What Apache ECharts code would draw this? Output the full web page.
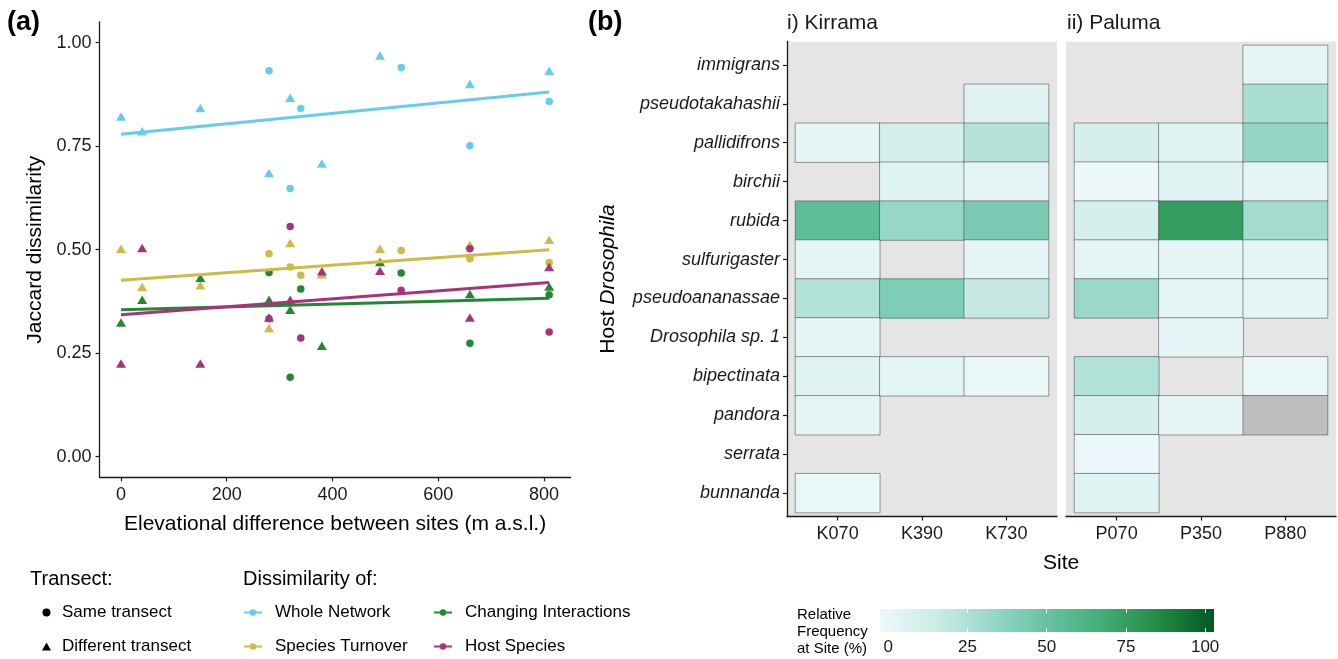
<!DOCTYPE html>
<html><head><meta charset="utf-8">
<script src="https://cdn.jsdelivr.net/npm/echarts@6/dist/echarts.min.js"></script>
<style>html,body{margin:0;padding:0;background:#fff}#c{width:1338px;height:659px}</style>
</head><body><div id="c"></div>
<script>
// ---------- Panel (a) data ----------
const xSame = [280, 320, 340, 530, 660, 810];
const xDiff = [0, 40, 150, 280, 320, 380, 490, 660, 810];
const wholeSame  = [0.932, 0.648, 0.841, 0.940, 0.751, 0.858];
const wholeDiff  = [0.822, 0.786, 0.842, 0.685, 0.867, 0.708, 0.969, 0.900, 0.932];
const turnSame   = [0.490, 0.458, 0.438, 0.498, 0.478, 0.469];
const turnDiff   = [0.502, 0.410, 0.414, 0.311, 0.516, 0.441, 0.502, 0.512, 0.524];
const changeSame = [0.445, 0.192, 0.405, 0.444, 0.274, 0.391];
const changeDiff = [0.324, 0.379, 0.432, 0.379, 0.355, 0.268, 0.470, 0.393, 0.411];
const hostSame   = [0.333, 0.556, 0.287, 0.402, 0.502, 0.301];
const hostDiff   = [0.225, 0.504, 0.225, 0.336, 0.379, 0.448, 0.449, 0.336, 0.458];
const trendX      = [0, 810];
const wholeTrend  = [0.779, 0.881];
const turnTrend   = [0.426, 0.500];
const changeTrend = [0.355, 0.383];
const hostTrend   = [0.343, 0.421];
const xTicks = [0, 200, 400, 600, 800];
const yTicks = [0, 0.25, 0.5, 0.75, 1];
const groupNames = ['Whole Network', 'Species Turnover', 'Changing Interactions', 'Host Species'];

// ---------- Panel (b) data ----------
const hosts = ['immigrans','pseudotakahashii','pallidifrons','birchii','rubida','sulfurigaster',
  'pseudoananassae','Drosophila sp. 1','bipectinata','pandora','serrata','bunnanda'];
const sitesK = ['K070', 'K390', 'K730'];
const sitesP = ['P070', 'P350', 'P880'];
const freqK070 = [null, null, 4, null, 54, 4, 25, 4, 7, 4, null, 1.5];
const freqK390 = [null, null, 12, 7, 34, null, 42, null, 5, null, null, null];
const freqK730 = [null, 7, 24, 4, 43, 4, 19, null, 1.5, null, null, null];
const freqP070 = [null, null, 12, 0.5, 12, 4, 33, null, 25, 12, 1, 7];
const freqP350 = [null, null, 7, 7, 75, 4, 4, 4, null, 4, null, null];
const freqP880 = [4, 28, 35, 4, 30, 4, 4, null, 1.5, 'NA', null, null];
const colorTicks = [0, 25, 50, 75, 100];

// ---------- styling ----------
const FONT = 'Liberation Sans, Arial, Helvetica, sans-serif';
const colors = ['#66CCEE', '#CCBB44', '#228833', '#AA3377'];
const bugn = ['#edf8fb', '#ccece6', '#99d8c9', '#66c2a4', '#41ae76', '#238b45', '#005824'];

const pairs = (xs, ys) => xs.map((x, i) => [x, ys[i]]);
const sameSets = [wholeSame, turnSame, changeSame, hostSame];
const diffSets = [wholeDiff, turnDiff, changeDiff, hostDiff];
const trendSets = [wholeTrend, turnTrend, changeTrend, hostTrend];

const series = [];
for (let g = 0; g < 4; g++) {
  series.push({ type: 'scatter', name: 'Same transect', xAxisIndex: 0, yAxisIndex: 0,
    symbol: 'circle', symbolSize: 7.5, itemStyle: { color: colors[g], opacity: 1 },
    data: pairs(xSame, sameSets[g]), z: 3, silent: true });
  series.push({ type: 'scatter', name: 'Different transect', xAxisIndex: 0, yAxisIndex: 0,
    symbol: 'triangle', symbolSize: [10, 8.5], itemStyle: { color: colors[g], opacity: 1 },
    data: pairs(xDiff, diffSets[g]), z: 3, silent: true });
}
for (let g = 0; g < 4; g++) {
  series.push({ type: 'line', name: groupNames[g], xAxisIndex: 0, yAxisIndex: 0,
    symbol: 'circle', showSymbol: false, color: colors[g],
    lineStyle: { width: 3, color: colors[g] }, itemStyle: { color: colors[g] },
    data: pairs(trendX, trendSets[g]), z: 5, silent: true });
}

function cells(siteArrays) {
  const v = [], na = [];
  siteArrays.forEach((arr, xi) => arr.forEach((val, yi) => {
    if (val === 'NA') na.push([xi, yi, 0]);
    else if (val !== null) v.push([xi, yi, val]);
  }));
  return { v, na };
}
const cK = cells([freqK070, freqK390, freqK730]);
const cP = cells([freqP070, freqP350, freqP880]);
const cellStyle = { borderColor: 'rgba(60,60,60,0.5)', borderWidth: 1 };
const hmStart = series.length;
series.push({ type: 'heatmap', xAxisIndex: 3, yAxisIndex: 3, data: cK.v, itemStyle: cellStyle, silent: true });
series.push({ type: 'heatmap', xAxisIndex: 4, yAxisIndex: 4, data: cP.v, itemStyle: cellStyle, silent: true });
series.push({ type: 'heatmap', xAxisIndex: 4, yAxisIndex: 4, data: cP.na,
  itemStyle: Object.assign({ color: '#bebebe' }, cellStyle), silent: true });

// layout
const panelTop = 41.5, panelH = 475;
const unitY = panelH / 12.2;
const panelW = 270, unitX = panelW / 3.2;
const pK = 787, pP = 1066;

const hiddenVal = (extra) => Object.assign({ type: 'value', min: 0, max: 1,
  axisLabel: { show: false }, axisTick: { show: false }, splitLine: { show: false } }, extra);

const option = {
  animation: false,
  textStyle: { fontFamily: FONT },
  title: [
    { text: '(a)', left: 7, top: 9, padding: 0, textStyle: { fontSize: 27, fontWeight: 'bold', color: '#000', fontFamily: FONT } },
    { text: '(b)', left: 588, top: 9, padding: 0, textStyle: { fontSize: 27, fontWeight: 'bold', color: '#000', fontFamily: FONT } },
    { text: 'i) Kirrama', left: 787, top: 13, padding: 0, textStyle: { fontSize: 21, fontWeight: 'normal', color: '#1a1a1a', fontFamily: FONT } },
    { text: 'ii) Paluma', left: 1067, top: 13, padding: 0, textStyle: { fontSize: 21, fontWeight: 'normal', color: '#1a1a1a', fontFamily: FONT } },
    { text: 'Site', left: 1043, top: 553, padding: 0, textStyle: { fontSize: 21, fontWeight: 'normal', color: '#000', fontFamily: FONT } },
    { text: 'Transect:', left: 30, top: 569, padding: 0, textStyle: { fontSize: 20, fontWeight: 'normal', color: '#000', fontFamily: FONT } },
    { text: 'Dissimilarity of:', left: 243, top: 569, padding: 0, textStyle: { fontSize: 20, fontWeight: 'normal', color: '#000', fontFamily: FONT } },
    { text: 'Relative\nFrequency\nat Site (%)', left: 797, top: 606, padding: 0,
      textStyle: { fontSize: 15, lineHeight: 17, fontWeight: 'normal', color: '#000', fontFamily: FONT } }
  ],
  legend: [
    { orient: 'vertical', left: 42, top: 604, padding: 0, itemGap: 17, itemWidth: 9, itemHeight: 8,
      selectedMode: false, textStyle: { fontSize: 17, color: '#000', fontFamily: FONT, padding: [0, 0, 0, 6] },
      data: [ { name: 'Same transect', icon: 'circle', itemStyle: { color: '#000' } },
              { name: 'Different transect', icon: 'triangle', itemStyle: { color: '#000' } } ] },
    { orient: 'vertical', left: 243, top: 604, padding: 0, itemGap: 17, itemWidth: 18, itemHeight: 8,
      selectedMode: false, textStyle: { fontSize: 17, color: '#000', fontFamily: FONT, padding: [0, 0, 0, 8] },
      data: ['Whole Network', 'Species Turnover'] },
    { orient: 'vertical', left: 433, top: 604, padding: 0, itemGap: 17, itemWidth: 18, itemHeight: 8,
      selectedMode: false, textStyle: { fontSize: 17, color: '#000', fontFamily: FONT, padding: [0, 0, 0, 8] },
      data: ['Changing Interactions', 'Host Species'] }
  ],
  visualMap: [{ type: 'continuous', show: false, min: 0, max: 100, seriesIndex: [hmStart, hmStart + 1],
    inRange: { color: bugn } }],
  grid: [
    { left: 99.6, top: 22, width: 471, height: 455.4 },
    { left: pK, top: panelTop, width: panelW, height: panelH, show: true, backgroundColor: '#e5e5e5', borderWidth: 0 },
    { left: pP, top: panelTop, width: panelW, height: panelH, show: true, backgroundColor: '#e5e5e5', borderWidth: 0 },
    { left: pK + unitX * 0.1, top: panelTop + unitY * 0.1, width: unitX * 3, height: unitY * 12 },
    { left: pP + unitX * 0.1, top: panelTop + unitY * 0.1, width: unitX * 3, height: unitY * 12 },
    { left: 880, top: 609, width: 334, height: 23, show: true, borderWidth: 0,
      backgroundColor: { type: 'linear', x: 0, y: 0, x2: 1, y2: 0,
        colorStops: bugn.map((c, i) => ({ offset: i / (bugn.length - 1), color: c })) } }
  ],
  xAxis: [
    { gridIndex: 0, type: 'value', min: -40.5, max: 850.5,
      name: 'Elevational difference between sites (m a.s.l.)', nameLocation: 'middle', nameGap: 36,
      nameTextStyle: { fontSize: 21, color: '#000', fontFamily: FONT },
      axisLine: { show: true, onZero: false, lineStyle: { color: '#1a1a1a', width: 1.3 } },
      axisTick: { show: true, length: 4, customValues: xTicks, lineStyle: { color: '#1a1a1a', width: 1.2 } },
      axisLabel: { customValues: xTicks, fontSize: 18, margin: 9, color: '#1a1a1a', fontFamily: FONT },
      splitLine: { show: false } },
    hiddenVal({ gridIndex: 1, axisLine: { show: true, onZero: false, lineStyle: { color: '#1a1a1a', width: 1.3 } } }),
    hiddenVal({ gridIndex: 2, axisLine: { show: true, onZero: false, lineStyle: { color: '#1a1a1a', width: 1.3 } } }),
    { gridIndex: 3, type: 'category', data: sitesK, offset: unitY * 0.1,
      axisLine: { show: false }, axisTick: { show: true, alignWithLabel: true, length: 4, lineStyle: { color: '#1a1a1a', width: 1.2 } },
      axisLabel: { fontSize: 18, margin: 9, color: '#1a1a1a', fontFamily: FONT }, splitLine: { show: false } },
    { gridIndex: 4, type: 'category', data: sitesP, offset: unitY * 0.1,
      axisLine: { show: false }, axisTick: { show: true, alignWithLabel: true, length: 4, lineStyle: { color: '#1a1a1a', width: 1.2 } },
      axisLabel: { fontSize: 18, margin: 9, color: '#1a1a1a', fontFamily: FONT }, splitLine: { show: false } },
    { gridIndex: 5, type: 'value', min: -2.6, max: 102.8, position: 'bottom',
      axisLine: { show: false }, axisTick: { show: true, inside: true, length: 4, customValues: colorTicks, lineStyle: { color: '#fff', width: 1 } },
      axisLabel: { customValues: colorTicks, fontSize: 17, margin: 7, color: '#1a1a1a', fontFamily: FONT },
      splitLine: { show: false } },
    { gridIndex: 5, type: 'value', min: -2.6, max: 102.8, position: 'top',
      axisLine: { show: false }, axisTick: { show: true, inside: true, length: 4, customValues: colorTicks, lineStyle: { color: '#fff', width: 1 } },
      axisLabel: { show: false }, splitLine: { show: false } }
  ],
  yAxis: [
    { gridIndex: 0, type: 'value', min: -0.05, max: 1.05,
      name: 'Jaccard dissimilarity', nameLocation: 'middle', nameGap: 54, nameRotate: 90,
      nameTextStyle: { fontSize: 21, color: '#000', fontFamily: FONT },
      axisLine: { show: true, onZero: false, lineStyle: { color: '#1a1a1a', width: 1.3 } },
      axisTick: { show: true, length: 4, customValues: yTicks, lineStyle: { color: '#1a1a1a', width: 1.2 } },
      axisLabel: { customValues: yTicks, fontSize: 18, margin: 8, color: '#1a1a1a', fontFamily: FONT,
        formatter: v => v.toFixed(2) },
      splitLine: { show: false } },
    hiddenVal({ gridIndex: 1, axisLine: { show: true, onZero: false, lineStyle: { color: '#1a1a1a', width: 1.3 } } }),
    hiddenVal({ gridIndex: 2, axisLine: { show: false } }),
    { gridIndex: 3, type: 'category', data: hosts, inverse: true, offset: unitX * 0.1,
      name: '{a|Host }{b|Drosophila}', nameLocation: 'middle', nameGap: 168, nameRotate: 90,
      nameTextStyle: { fontSize: 21, color: '#000', fontFamily: FONT,
        rich: { a: { fontSize: 21, color: '#000', fontFamily: FONT },
                b: { fontSize: 21, color: '#000', fontStyle: 'italic', fontFamily: FONT } } },
      axisLine: { show: false }, axisTick: { show: true, alignWithLabel: true, length: 4, lineStyle: { color: '#1a1a1a', width: 1.2 } },
      axisLabel: { fontSize: 18, margin: 7, fontStyle: 'italic', color: '#1a1a1a', fontFamily: FONT, interval: 0 },
      splitLine: { show: false } },
    { gridIndex: 4, type: 'category', data: hosts, inverse: true,
      axisLine: { show: false }, axisTick: { show: false }, axisLabel: { show: false }, splitLine: { show: false } },
    hiddenVal({ gridIndex: 5, axisLine: { show: false } })
  ],
  series: series
};

const chart = echarts.init(document.getElementById('c'), null, { renderer: 'canvas' });
chart.setOption(option);
</script></body></html>
